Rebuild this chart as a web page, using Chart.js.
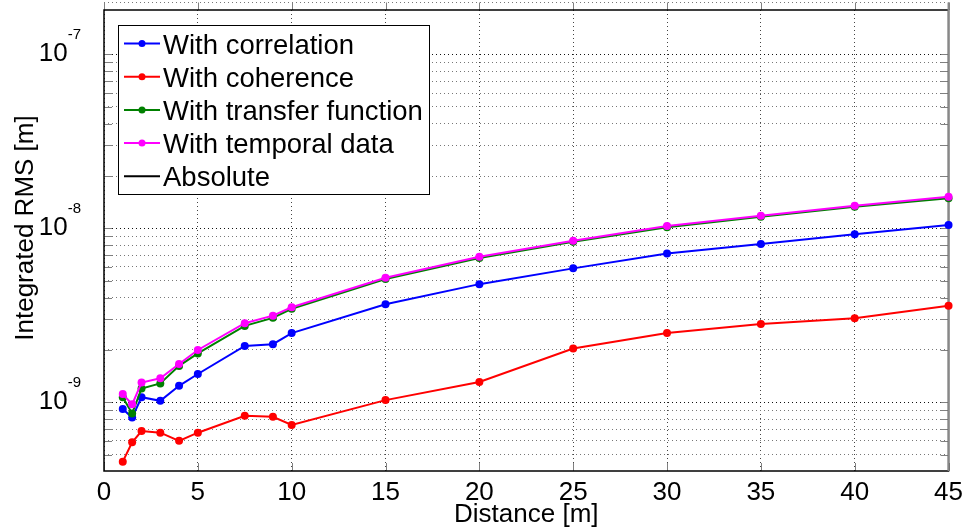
<!DOCTYPE html>
<html>
<head>
<meta charset="utf-8">
<title>Integrated RMS vs distance</title>
<script src="https://cdn.jsdelivr.net/npm/chart.js@4"></script>
<style>
    body { margin: 0; background: #fff; }
    #wrap { width: 969px; height: 531px; }
</style>
</head>
<body>
<div id="wrap"><canvas id="rmsChart" width="969" height="531"></canvas></div>
<script>
// DATA
const distances = [1, 1.5, 2, 3, 4, 5, 7.5, 9, 10, 15, 20, 25, 30, 35, 40, 45];

const withCorrelation = [9.15e-10, 8.17e-10, 1.07e-9, 1.02e-9, 1.245e-9, 1.455e-9, 2.11e-9, 2.16e-9,
    2.50e-9, 3.66e-9, 4.78e-9, 5.89e-9, 7.18e-9, 8.12e-9, 9.24e-9, 1.044e-8];
const withCoherence = [4.56e-10, 5.89e-10, 6.84e-10, 6.69e-10, 6.01e-10, 6.69e-10, 8.38e-10, 8.26e-10,
    7.41e-10, 1.03e-9, 1.31e-9, 2.04e-9, 2.50e-9, 2.82e-9, 3.04e-9, 3.59e-9];
const withTransfer = [1.07e-9, 8.63e-10, 1.20e-9, 1.285e-9, 1.62e-9, 1.91e-9, 2.75e-9, 3.06e-9,
    3.45e-9, 5.12e-9, 6.75e-9, 8.38e-9, 1.015e-8, 1.165e-8, 1.33e-8, 1.49e-8];
const withTemporal = [1.117e-9, 9.74e-10, 1.30e-9, 1.375e-9, 1.66e-9, 2.00e-9, 2.85e-9, 3.15e-9,
    3.52e-9, 5.20e-9, 6.87e-9, 8.49e-9, 1.031e-8, 1.18e-8, 1.35e-8, 1.52e-8];
const absolute = [];

const seriesNames = ['With correlation', 'With coherence', 'With transfer function', 'With temporal data', 'Absolute'];

// y axis grid / tick positions
const yTickValues = [5e-10, 6e-10, 7e-10, 8e-10, 9e-10,
    1e-9, 2e-9, 3e-9, 4e-9, 5e-9, 6e-9, 7e-9, 8e-9, 9e-9,
    1e-8, 2e-8, 3e-8, 4e-8, 5e-8, 6e-8, 7e-8, 8e-8, 9e-8,
    1e-7];
const decadeValues = [1e-9, 1e-8, 1e-7];
const decadeExponents = ['-9', '-8', '-7'];

const FONT = "'Liberation Sans', Arial, Helvetica, sans-serif";

function toPoints(values) {
    return values.map((v, i) => ({ x: distances[i], y: v }));
}

function makeSet(label, values, color, order, showPoints) {
    return {
        label: label,
        data: toPoints(values),
        borderColor: color,
        backgroundColor: color,
        borderWidth: 2,
        pointRadius: showPoints ? 4 : 0,
        pointHoverRadius: 4,
        pointBorderWidth: 0,
        tension: 0,
        clip: false,
        order: order
    };
}

// box, inner ticks, y labels, y title
const axesPlugin = {
    id: 'axesPlugin',
    beforeDatasetsDraw(chart) {
        const ctx = chart.ctx;
        const a = chart.chartArea;
        const xs = chart.scales.x;
        const ys = chart.scales.y;

        ctx.save();
        // the 2e-7 grid line peeking above the box
        ctx.strokeStyle = '#777';
        ctx.lineWidth = 1;
        ctx.setLineDash([1, 3]);
        const yTop = Math.round(ys.getPixelForValue(2e-7)) + 0.5;
        ctx.beginPath();
        ctx.moveTo(a.left, yTop); ctx.lineTo(a.right, yTop);
        ctx.stroke();
        ctx.setLineDash([]);

        ctx.strokeStyle = '#808080';
        ctx.beginPath();
        yTickValues.forEach(v => {
            const y = Math.round(ys.getPixelForValue(v)) + 0.5;
            ctx.moveTo(a.left, y); ctx.lineTo(a.left + 8, y);
            ctx.moveTo(a.right, y); ctx.lineTo(a.right - 8, y);
        });
        xs.ticks.forEach(t => {
            const x = Math.round(xs.getPixelForValue(t.value)) + 0.5;
            ctx.moveTo(x, a.bottom); ctx.lineTo(x, a.bottom - 8);
            ctx.moveTo(x, a.top); ctx.lineTo(x, yTop);
        });
        ctx.stroke();

        ctx.strokeStyle = '#000';
        ctx.lineWidth = 1.5;
        ctx.strokeRect(a.left, a.top, a.right - a.left, a.bottom - a.top);
        ctx.strokeStyle = '#888';
        ctx.lineWidth = 2;
        ctx.beginPath();
        ctx.moveTo(a.right, yTop); ctx.lineTo(a.right, a.bottom);
        ctx.stroke();

        // y tick labels 10^n
        ctx.fillStyle = '#000';
        ctx.textBaseline = 'alphabetic';
        decadeValues.forEach((v, i) => {
            const y = ys.getPixelForValue(v);
            ctx.font = '15px ' + FONT;
            const supW = ctx.measureText(decadeExponents[i]).width;
            ctx.textAlign = 'left';
            ctx.fillText(decadeExponents[i], 81 - supW, y - 15);
            ctx.font = '26px ' + FONT;
            ctx.textAlign = 'right';
            ctx.fillText('10', 81 - supW, y + 7);
        });

        // y axis title
        ctx.translate(33, 228);
        ctx.rotate(-Math.PI / 2);
        ctx.font = '26px ' + FONT;
        ctx.textAlign = 'center';
        ctx.fillText('Integrated RMS [m]', 0, 0);
        ctx.restore();
    },
    afterDatasetsDraw(chart) {
        // legend box
        const ctx = chart.ctx;
        ctx.save();
        ctx.fillStyle = '#fff';
        ctx.fillRect(118, 25, 311, 169);
        ctx.strokeStyle = '#000';
        ctx.lineWidth = 1;
        ctx.strokeRect(118.5, 25.5, 311, 169);
        ctx.font = '27.5px ' + FONT;
        ctx.textAlign = 'left';
        ctx.textBaseline = 'alphabetic';
        chart.data.datasets.forEach((ds, i) => {
            const cy = 43.5 + i * 33.2;
            ctx.strokeStyle = ds.borderColor;
            ctx.lineWidth = 2;
            ctx.beginPath();
            ctx.moveTo(124, cy); ctx.lineTo(160, cy);
            ctx.stroke();
            if (ds.pointRadius > 0) {
                ctx.fillStyle = ds.borderColor;
                ctx.beginPath();
                ctx.arc(142, cy, 3.5, 0, Math.PI * 2);
                ctx.fill();
            }
            ctx.fillStyle = '#000';
            ctx.fillText(ds.label, 163, cy + 10);
        });
        ctx.restore();
    }
};

window.onload = function () {
    const ctx = document.getElementById('rmsChart').getContext('2d');

    new Chart(ctx, {
        type: 'line',
        data: {
            datasets: [
                makeSet(seriesNames[0], withCorrelation, '#0000ff', 4, true),
                makeSet(seriesNames[1], withCoherence, '#ff0000', 3, true),
                makeSet(seriesNames[2], withTransfer, '#008000', 2, true),
                makeSet(seriesNames[3], withTemporal, '#ff00ff', 1, true),
                makeSet(seriesNames[4], absolute, '#000000', 5, false)
            ]
        },
        options: {
            responsive: false,
            animation: false,
            layout: { padding: { top: 10, right: 16, left: 0, bottom: 0 } },
            plugins: {
                legend: { display: false },
                tooltip: { enabled: false }
            },
            scales: {
                x: {
                    type: 'linear',
                    min: 0,
                    max: 45,
                    afterFit(scale) { scale.height = 60; },
                    ticks: {
                        stepSize: 5,
                        maxRotation: 0,
                        autoSkip: false,
                        padding: 6,
                        color: '#000',
                        font: { family: FONT, size: 26 }
                    },
                    grid: {
                        drawTicks: false,
                        color: '#444',
                        lineWidth: 1
                    },
                    border: { display: false, dash: [1, 3] },
                    title: {
                        display: true,
                        text: 'Distance [m]',
                        color: '#000',
                        padding: { top: 0, bottom: 3 },
                        font: { family: FONT, size: 26, lineHeight: 1 }
                    }
                },
                y: {
                    type: 'logarithmic',
                    min: 4.03e-10,
                    max: 1.8e-7,
                    afterFit(scale) { scale.width = 104; },
                    afterBuildTicks(scale) {
                        scale.ticks = yTickValues.map(v => ({ value: v }));
                    },
                    ticks: { display: false },
                    grid: {
                        drawTicks: false,
                        lineWidth: 1,
                        color: c => decadeValues.includes(c.tick && c.tick.value) ? '#111' : '#777'
                    },
                    border: { display: false, dash: [1, 3] }
                }
            }
        },
        plugins: [axesPlugin]
    });
};
</script>
</body>
</html>
